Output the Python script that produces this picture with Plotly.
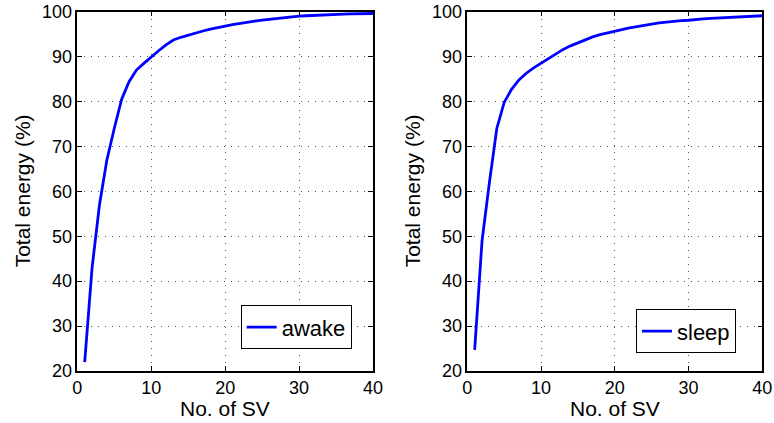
import plotly.graph_objects as go

sv = list(range(1, 41))
awake = [22, 43, 57, 67, 74, 80.5, 84.4, 87, 88.5, 90, 91.3, 92.6, 93.7, 94.3, 94.8,
         95.3, 95.7, 96.1, 96.5, 96.8, 97.1, 97.4, 97.7, 97.9, 98.1, 98.3, 98.5, 98.7,
         98.85, 99.0, 99.1, 99.2, 99.3, 99.35, 99.4, 99.45, 99.5, 99.55, 99.6, 99.6]
sleep = [24.7, 49, 62, 74, 79.8, 82.7, 84.8, 86.3, 87.5, 88.5, 89.5, 90.6, 91.6, 92.4,
         93.1, 93.8, 94.4, 94.9, 95.3, 95.6, 96.0, 96.4, 96.7, 97.0, 97.3, 97.5, 97.7,
         97.9, 98.0, 98.1, 98.3, 98.4, 98.5, 98.6, 98.7, 98.8, 98.9, 98.95, 99.0, 99.1]
x_ticks = [0, 10, 20, 30, 40]
y_ticks = [20, 30, 40, 50, 60, 70, 80, 90, 100]
x_title = "No. of SV"
y_title = "Total energy (%)"

FONT = "Liberation Sans, Arial, sans-serif"
W, H = 774, 423

fig = go.Figure()
fig.add_trace(go.Scatter(x=sv, y=awake, mode="lines", name="awake",
                         line=dict(color="#0000ff", width=2.8),
                         xaxis="x", yaxis="y", legend="legend"))
fig.add_trace(go.Scatter(x=sv, y=sleep, mode="lines", name="sleep",
                         line=dict(color="#0000ff", width=2.8),
                         xaxis="x2", yaxis="y2", legend="legend2"))

ydom = [1 - 371 / H, 1 - 11.7 / H]
xd1 = [77.3 / W, 373 / W]
xd2 = [467.3 / W, 762.3 / W]

axis_common = dict(
    showline=True, linecolor="black", linewidth=1.5, mirror="allticks",
    ticks="inside", ticklen=5, tickwidth=1, tickcolor="black",
    showgrid=True, gridcolor="#555555", gridwidth=1, griddash="1px,6px",
    zeroline=False, automargin=False,
    tickfont=dict(family=FONT, size=18, color="black"),
)

fig.update_layout(
    width=W, height=H, margin=dict(l=0, r=0, t=0, b=0, autoexpand=False),
    paper_bgcolor="white", plot_bgcolor="white",
    xaxis=dict(domain=xd1, range=[0, 40], tickvals=x_ticks, anchor="y", **axis_common),
    yaxis=dict(domain=ydom, range=[20, 100], tickvals=y_ticks, anchor="x", **axis_common),
    xaxis2=dict(domain=xd2, range=[0, 40], tickvals=x_ticks, anchor="y2", **axis_common),
    yaxis2=dict(domain=ydom, range=[20, 100], tickvals=y_ticks, anchor="x2", **axis_common),
    legend=dict(x=351.7 / W, y=1 - 349.3 / H, xanchor="right", yanchor="bottom",
                bordercolor="black", borderwidth=1, bgcolor="white",
                font=dict(family=FONT, size=22, color="black")),
    legend2=dict(x=736 / W, y=1 - 353.3 / H, xanchor="right", yanchor="bottom",
                 bordercolor="black", borderwidth=1, bgcolor="white",
                 font=dict(family=FONT, size=22, color="black")),
    showlegend=True,
)

tfont = dict(family=FONT, size=21, color="black")
for xc in [(xd1[0] + xd1[1]) / 2, (xd2[0] + xd2[1]) / 2]:
    fig.add_annotation(text=x_title, x=xc, y=1 - 408 / H, xref="paper", yref="paper",
                       showarrow=False, font=tfont, xanchor="center", yanchor="middle")
for xc in [22 / W, 412 / W]:
    fig.add_annotation(text=y_title, x=xc, y=(ydom[0] + ydom[1]) / 2, xref="paper",
                       yref="paper", showarrow=False, font=tfont, textangle=-90,
                       xanchor="center", yanchor="middle")

fig.write_html("out.html")
